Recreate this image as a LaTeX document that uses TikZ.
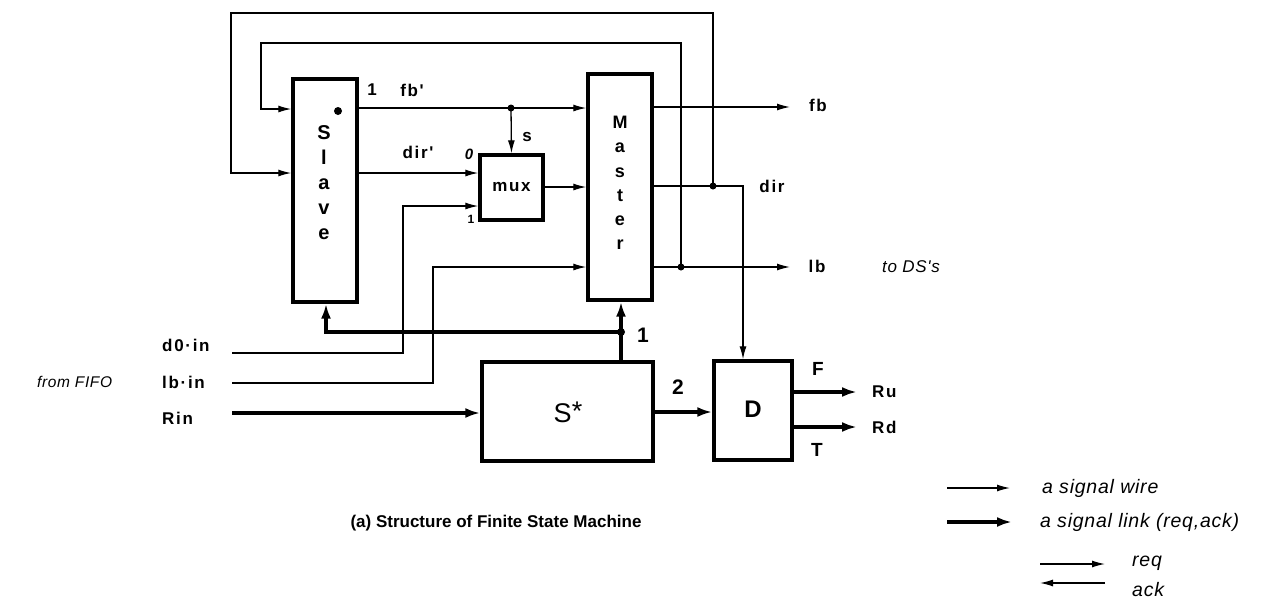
\documentclass[tikz,border=0pt]{standalone}
\usepackage{fontspec}
\setmainfont{Liberation Sans}
\newfontfamily\lblfont[LetterSpace=10]{Liberation Sans}
\newfontfamily\itfont[LetterSpace=4]{Liberation Sans}
\usetikzlibrary{arrows.meta}
\begin{document}
\begin{tikzpicture}[x=1pt,y=-1pt,
  wire/.style={line width=1.3pt},
  link/.style={line width=3.2pt},
  warr/.style={-{Latex[length=13pt,width=7pt]}},
  larr/.style={-{Latex[length=15pt,width=10pt]}},
  blk/.style={draw,line width=3.4pt,inner sep=0pt},
  lbl/.style={font=\fontsize{17}{19}\selectfont\lblfont\bfseries,inner sep=0pt},
  big/.style={font=\fontsize{21}{24}\selectfont\bfseries,inner sep=0pt},
  itl/.style={font=\fontsize{17}{20}\selectfont\itfont\itshape,inner sep=0pt},
  leg/.style={font=\fontsize{19.5}{22}\selectfont\itfont\itshape,inner sep=0pt},
  dot/.style={circle,fill,inner sep=0pt,minimum size=7pt}
]
\useasboundingbox (0,0) rectangle (1262,603);

% blocks
\node[blk,minimum width=64pt,minimum height=223pt] (slave) at (325,190.5) {};
\node[blk,minimum width=64pt,minimum height=226pt] (master) at (620,187) {};
\node[blk,minimum width=63pt,minimum height=65pt] (mux) at (511.5,187.5) {};
\node[blk,minimum width=171pt,minimum height=99pt] (sstar) at (567.5,411.5) {};
\node[blk,minimum width=78pt,minimum height=99pt] (dd) at (753,410.5) {};

% block texts
\node[font=\fontsize{20}{25}\selectfont\bfseries,align=center] (slavetxt) at (324,183) {S\\l\\a\\v\\e};
\node[font=\fontsize{18}{24.2}\selectfont\bfseries,align=center] (mastertxt) at (620,183) {M\\a\\s\\t\\e\\r};
\node[lbl,font=\fontsize{17}{18}\selectfont\lblfont\bfseries] (muxtxt) at (511.5,187.5) {mux};
\node[font=\fontsize{27}{30}\selectfont,inner sep=0pt] (sstartxt) at (568,412) {S\raisebox{2pt}{*}};
\node[big,font=\fontsize{24}{28}\selectfont\bfseries] (dtxt) at (753,409) {D};
\node[dot,minimum size=8pt] (sdot) at (338,111) {};

% junctions and free ends
\coordinate (jfb) at (511,108);
\coordinate (jdir) at (713,186);
\coordinate (jlb) at (681,267);
\coordinate (js) at (621,332);
\coordinate (fbend) at (790,107);
\coordinate (lbend) at (790,267);
\coordinate (dircorner) at (743,186);
\coordinate (d0s) at (232,353);
\coordinate (lbs) at (232,383);
\coordinate (rins) at (232,413);
\coordinate (ruend) at (857,392);
\coordinate (rdend) at (857,427);

% fb' wire
\draw[wire,warr] (slave.east |- jfb) -- (jfb) -- (master.west |- jfb);
\draw[wire,warr] (jfb) -- (mux.north);
\node[dot] (dfb) at (jfb) {};
% dir' wire
\draw[wire,warr] (slave.east |- 0,173) -- (mux.west |- 0,173);
% mux out
\draw[wire,warr] (mux.east |- 0,187) -- (master.west |- 0,187);
% outer loop (dir back to slave)
\draw[wire,warr] (jdir) -- (713,13) -- (231,13) -- (231,173) -- (slave.west |- 0,173);
% inner loop (lb back to slave)
\draw[wire,warr] (jlb) -- (681,43) -- (261,43) -- (261,109) -- (slave.west |- 0,109);
% master outputs
\draw[wire,warr] (master.east |- fbend) -- (fbend);
\draw[wire,warr] (master.east |- jdir) -- (jdir) -- (dircorner) -- (dircorner |- dd.north);
\node[dot] (ddir) at (jdir) {};
\draw[wire,warr] (master.east |- jlb) -- (jlb) -- (lbend);
\node[dot] (dlb) at (jlb) {};
% d0-in, lb-in
\draw[wire,warr] (d0s) -- (403,353) -- (403,206) -- (mux.west |- 0,206);
\draw[wire,warr] (lbs) -- (433,383) -- (433,267) -- (master.west |- 0,267);
% links
\draw[link,larr] (sstar.north -| js) -- (master.south -| js);
\draw[link,larr] (js) -- (326,332) -- (slave.south -| 326,0);
\node[dot,minimum size=8pt] (ds) at (js) {};
\draw[link,larr] (rins) -- (sstar.west |- rins);
\draw[link,larr] (sstar.east |- 0,412) -- (dd.west |- 0,412);
\draw[link,larr] (dd.east |- ruend) -- (ruend);
\draw[link,larr] (dd.east |- rdend) -- (rdend);

% labels
\node[lbl] (l1fb) at (372,90) {1};
\node[lbl] (lfbp) at (412,90) {fb'};
\node[lbl] (ls) at (527,137) {s};
\node[lbl] (ldirp) at (418,152) {dir'};
\node[font=\fontsize{15}{17}\selectfont\bfseries\itshape,inner sep=0pt] (l0) at (469,154) {0};
\node[font=\fontsize{12}{14}\selectfont\bfseries,inner sep=0pt] (lone) at (471,219) {1};
\node[lbl] (lfb) at (818,105) {fb};
\node[lbl] (ldir) at (772,186) {dir};
\node[lbl] (llb) at (817,266) {lb};
\node[itl] (lds) at (911,267) {to DS's};
\node[big] (lone2) at (643,335) {1};
\node[big] (ltwo) at (678,387) {2};
\node[big,font=\fontsize{19}{22}\selectfont\bfseries] (lF) at (818,369) {F};
\node[big,font=\fontsize{19}{22}\selectfont\bfseries] (lT) at (817,450) {T};
\node[lbl,anchor=west] (lRu) at (872,392) {Ru};
\node[lbl,anchor=west] (lRd) at (872,427) {Rd};
\node[lbl,anchor=west] (ld0) at (162,345) {d0·in};
\node[lbl,anchor=west] (llbin) at (162,382) {lb·in};
\node[lbl,anchor=west] (lrin) at (162,418) {Rin};
\node[itl,anchor=west,font=\fontsize{15.5}{18}\selectfont\itfont\itshape] (lfifo) at (37,382) {from FIFO};
\node[font=\fontsize{17}{21}\selectfont\bfseries,inner sep=0pt] (caption) at (496,523) {(a) Structure of Finite State Machine};

% legend
\coordinate (lg1a) at (947,488); \coordinate (lg1b) at (1010,488);
\coordinate (lg2a) at (947,522); \coordinate (lg2b) at (1012,522);
\coordinate (lg3a) at (1040,564); \coordinate (lg3b) at (1105,564);
\coordinate (lg4a) at (1105,583); \coordinate (lg4b) at (1040,583);
\draw[wire,warr] (lg1a) -- (lg1b);
\draw[link,larr] (lg2a) -- (lg2b);
\draw[wire,warr] (lg3a) -- (lg3b);
\draw[wire,warr] (lg4a) -- (lg4b);
\node[leg,anchor=west] (t1) at (1042,488) {a signal wire};
\node[leg,anchor=west] (t2) at (1040,522) {a signal link (req,ack)};
\node[leg,anchor=west] (t3) at (1132,563) {req};
\node[leg,anchor=west] (t4) at (1132,590) {ack};
\end{tikzpicture}
\end{document}
